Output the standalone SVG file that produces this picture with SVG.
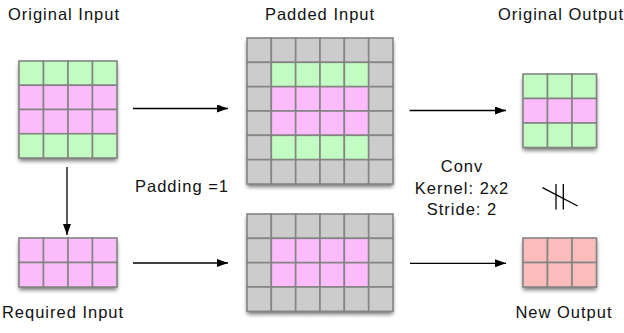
<svg xmlns="http://www.w3.org/2000/svg" width="624" height="333" viewBox="0 0 624 333">
<defs>
<filter id="sh" x="-20%" y="-20%" width="140%" height="140%">
<feGaussianBlur in="SourceAlpha" stdDeviation="2"/>
<feOffset dx="0" dy="3" result="b"/>
<feComponentTransfer><feFuncA type="linear" slope="0.55"/></feComponentTransfer>
<feMerge><feMergeNode/><feMergeNode in="SourceGraphic"/></feMerge>
</filter>
<marker id="ah" viewBox="0 0 11 8" refX="11" refY="4" markerWidth="11" markerHeight="8" markerUnits="userSpaceOnUse" orient="auto">
<path d="M0,0 L11,4 L0,8 z" fill="#000"/>
</marker>
</defs>
<style>
text{font-family:"Liberation Sans",Arial,sans-serif;font-size:16.5px;fill:#111;text-anchor:middle;letter-spacing:1px}
.g{fill:#c2fcc2}
.p{fill:#fcbcfc}
.y{fill:#cccccc}
.r{fill:#fcbcbc}
.cell{stroke:#848484;stroke-width:1.6}
.bg{fill:#888}
.con{stroke:#000;stroke-width:1.3;fill:none;marker-end:url(#ah)}
</style>

<g id="original-input">
<rect class="bg" x="19" y="61" width="98" height="97" filter="url(#sh)"/>
<g class="cell">
<rect class="g" x="19" y="61" width="24.5" height="24.25"/><rect class="g" x="43.5" y="61" width="24.5" height="24.25"/><rect class="g" x="68" y="61" width="24.5" height="24.25"/><rect class="g" x="92.5" y="61" width="24.5" height="24.25"/>
<rect class="p" x="19" y="85.25" width="24.5" height="24.25"/><rect class="p" x="43.5" y="85.25" width="24.5" height="24.25"/><rect class="p" x="68" y="85.25" width="24.5" height="24.25"/><rect class="p" x="92.5" y="85.25" width="24.5" height="24.25"/>
<rect class="p" x="19" y="109.5" width="24.5" height="24.25"/><rect class="p" x="43.5" y="109.5" width="24.5" height="24.25"/><rect class="p" x="68" y="109.5" width="24.5" height="24.25"/><rect class="p" x="92.5" y="109.5" width="24.5" height="24.25"/>
<rect class="g" x="19" y="133.75" width="24.5" height="24.25"/><rect class="g" x="43.5" y="133.75" width="24.5" height="24.25"/><rect class="g" x="68" y="133.75" width="24.5" height="24.25"/><rect class="g" x="92.5" y="133.75" width="24.5" height="24.25"/>
</g>
<text x="64" y="20">Original Input</text>
</g>

<g id="required-input">
<rect class="bg" x="19" y="238" width="98" height="49" filter="url(#sh)"/>
<g class="cell">
<rect class="p" x="19" y="238" width="24.5" height="24.5"/><rect class="p" x="43.5" y="238" width="24.5" height="24.5"/><rect class="p" x="68" y="238" width="24.5" height="24.5"/><rect class="p" x="92.5" y="238" width="24.5" height="24.5"/>
<rect class="p" x="19" y="262.5" width="24.5" height="24.5"/><rect class="p" x="43.5" y="262.5" width="24.5" height="24.5"/><rect class="p" x="68" y="262.5" width="24.5" height="24.5"/><rect class="p" x="92.5" y="262.5" width="24.5" height="24.5"/>
</g>
<text x="63" y="318">Required Input</text>
</g>

<g id="padded-input">
<rect class="bg" x="247" y="38" width="146" height="146" filter="url(#sh)"/>
<g class="cell">
<rect class="y" x="247" y="38" width="24.33" height="24.33"/><rect class="y" x="271.33" y="38" width="24.33" height="24.33"/><rect class="y" x="295.67" y="38" width="24.33" height="24.33"/><rect class="y" x="320" y="38" width="24.33" height="24.33"/><rect class="y" x="344.33" y="38" width="24.33" height="24.33"/><rect class="y" x="368.67" y="38" width="24.33" height="24.33"/>
<rect class="y" x="247" y="62.33" width="24.33" height="24.33"/><rect class="g" x="271.33" y="62.33" width="24.33" height="24.33"/><rect class="g" x="295.67" y="62.33" width="24.33" height="24.33"/><rect class="g" x="320" y="62.33" width="24.33" height="24.33"/><rect class="g" x="344.33" y="62.33" width="24.33" height="24.33"/><rect class="y" x="368.67" y="62.33" width="24.33" height="24.33"/>
<rect class="y" x="247" y="86.67" width="24.33" height="24.33"/><rect class="p" x="271.33" y="86.67" width="24.33" height="24.33"/><rect class="p" x="295.67" y="86.67" width="24.33" height="24.33"/><rect class="p" x="320" y="86.67" width="24.33" height="24.33"/><rect class="p" x="344.33" y="86.67" width="24.33" height="24.33"/><rect class="y" x="368.67" y="86.67" width="24.33" height="24.33"/>
<rect class="y" x="247" y="111" width="24.33" height="24.33"/><rect class="p" x="271.33" y="111" width="24.33" height="24.33"/><rect class="p" x="295.67" y="111" width="24.33" height="24.33"/><rect class="p" x="320" y="111" width="24.33" height="24.33"/><rect class="p" x="344.33" y="111" width="24.33" height="24.33"/><rect class="y" x="368.67" y="111" width="24.33" height="24.33"/>
<rect class="y" x="247" y="135.33" width="24.33" height="24.33"/><rect class="g" x="271.33" y="135.33" width="24.33" height="24.33"/><rect class="g" x="295.67" y="135.33" width="24.33" height="24.33"/><rect class="g" x="320" y="135.33" width="24.33" height="24.33"/><rect class="g" x="344.33" y="135.33" width="24.33" height="24.33"/><rect class="y" x="368.67" y="135.33" width="24.33" height="24.33"/>
<rect class="y" x="247" y="159.67" width="24.33" height="24.33"/><rect class="y" x="271.33" y="159.67" width="24.33" height="24.33"/><rect class="y" x="295.67" y="159.67" width="24.33" height="24.33"/><rect class="y" x="320" y="159.67" width="24.33" height="24.33"/><rect class="y" x="344.33" y="159.67" width="24.33" height="24.33"/><rect class="y" x="368.67" y="159.67" width="24.33" height="24.33"/>
</g>
<text x="320" y="20">Padded Input</text>
</g>

<g id="padded-required">
<rect class="bg" x="247" y="214" width="146" height="97.33" filter="url(#sh)"/>
<g class="cell">
<rect class="y" x="247" y="214" width="24.33" height="24.33"/><rect class="y" x="271.33" y="214" width="24.33" height="24.33"/><rect class="y" x="295.67" y="214" width="24.33" height="24.33"/><rect class="y" x="320" y="214" width="24.33" height="24.33"/><rect class="y" x="344.33" y="214" width="24.33" height="24.33"/><rect class="y" x="368.67" y="214" width="24.33" height="24.33"/>
<rect class="y" x="247" y="238.33" width="24.33" height="24.33"/><rect class="p" x="271.33" y="238.33" width="24.33" height="24.33"/><rect class="p" x="295.67" y="238.33" width="24.33" height="24.33"/><rect class="p" x="320" y="238.33" width="24.33" height="24.33"/><rect class="p" x="344.33" y="238.33" width="24.33" height="24.33"/><rect class="y" x="368.67" y="238.33" width="24.33" height="24.33"/>
<rect class="y" x="247" y="262.67" width="24.33" height="24.33"/><rect class="p" x="271.33" y="262.67" width="24.33" height="24.33"/><rect class="p" x="295.67" y="262.67" width="24.33" height="24.33"/><rect class="p" x="320" y="262.67" width="24.33" height="24.33"/><rect class="p" x="344.33" y="262.67" width="24.33" height="24.33"/><rect class="y" x="368.67" y="262.67" width="24.33" height="24.33"/>
<rect class="y" x="247" y="287" width="24.33" height="24.33"/><rect class="y" x="271.33" y="287" width="24.33" height="24.33"/><rect class="y" x="295.67" y="287" width="24.33" height="24.33"/><rect class="y" x="320" y="287" width="24.33" height="24.33"/><rect class="y" x="344.33" y="287" width="24.33" height="24.33"/><rect class="y" x="368.67" y="287" width="24.33" height="24.33"/>
</g>
</g>

<g id="original-output">
<rect class="bg" x="523" y="74" width="73.5" height="73.5" filter="url(#sh)"/>
<g class="cell">
<rect class="g" x="523" y="74" width="24.5" height="24.5"/><rect class="g" x="547.5" y="74" width="24.5" height="24.5"/><rect class="g" x="572" y="74" width="24.5" height="24.5"/>
<rect class="p" x="523" y="98.5" width="24.5" height="24.5"/><rect class="p" x="547.5" y="98.5" width="24.5" height="24.5"/><rect class="p" x="572" y="98.5" width="24.5" height="24.5"/>
<rect class="g" x="523" y="123" width="24.5" height="24.5"/><rect class="g" x="547.5" y="123" width="24.5" height="24.5"/><rect class="g" x="572" y="123" width="24.5" height="24.5"/>
</g>
<text x="561" y="20">Original Output</text>
</g>

<g id="new-output">
<rect class="bg" x="523" y="238" width="73.5" height="49" filter="url(#sh)"/>
<g class="cell">
<rect class="r" x="523" y="238" width="24.5" height="24.5"/><rect class="r" x="547.5" y="238" width="24.5" height="24.5"/><rect class="r" x="572" y="238" width="24.5" height="24.5"/>
<rect class="r" x="523" y="262.5" width="24.5" height="24.5"/><rect class="r" x="547.5" y="262.5" width="24.5" height="24.5"/><rect class="r" x="572" y="262.5" width="24.5" height="24.5"/>
</g>
<text x="564" y="318">New Output</text>
</g>

<g id="labels">
<text x="182" y="192">Padding =1</text>
<text x="462" y="172">Conv</text>
<text x="462" y="193.5">Kernel: 2x2</text>
<text x="462" y="215">Stride: 2</text>
</g>

<g id="not-equal" stroke="#000" stroke-width="1.3">
<line x1="556" y1="184" x2="556" y2="209.5"/>
<line x1="563.3" y1="184" x2="563.3" y2="209.5"/>
<line x1="542.5" y1="187.7" x2="577.7" y2="206"/>
</g>

<g id="connectors">
<line class="con" x1="133" y1="108.5" x2="228" y2="108.5"/>
<line class="con" x1="133" y1="263" x2="228" y2="263"/>
<line class="con" x1="67" y1="167" x2="67" y2="235"/>
<line class="con" x1="409.5" y1="110.5" x2="506" y2="110.5"/>
<line class="con" x1="410" y1="263.3" x2="506" y2="263.3"/>
</g>
</svg>
